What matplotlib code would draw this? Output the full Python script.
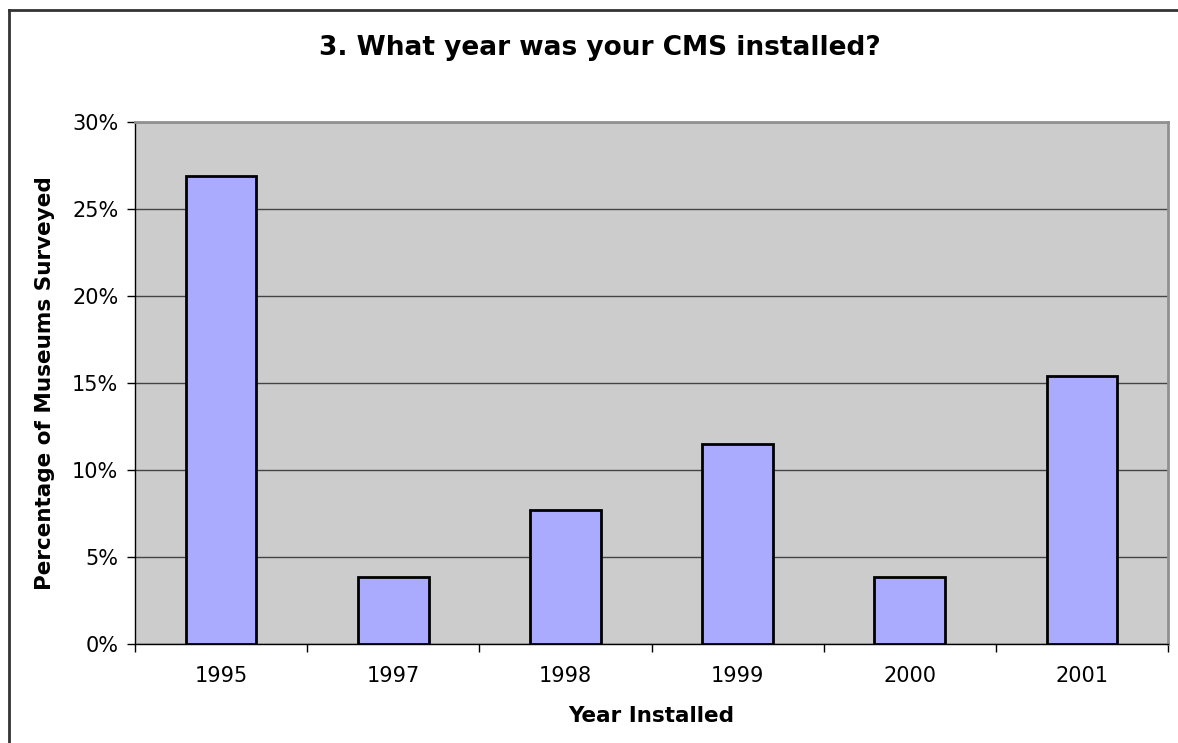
import matplotlib
matplotlib.use("Agg")
import matplotlib.pyplot as plt
import matplotlib.ticker as mticker
from matplotlib.lines import Line2D
import numpy as np

years = ["1995", "1997", "1998", "1999", "2000", "2001"]
percent = [26.9, 3.85, 7.7, 11.5, 3.85, 15.4]

plt.rcParams["font.family"] = "DejaVu Sans"

W, H = 1178, 743
fig = plt.figure(figsize=(W / 100, H / 100), dpi=100)
ax = fig.add_axes([135 / W, 1 - 644 / H, (1168 - 135) / W, (644 - 122) / H])

ax.set_facecolor("#cccccc")
xs = np.arange(len(years))
ax.bar(xs, percent, width=0.41, color="#aaaaff", edgecolor="black", linewidth=2, zorder=3)

ax.set_xlim(-0.5, len(years) - 0.5)
ax.set_ylim(0, 30)
ax.yaxis.set_major_locator(mticker.MultipleLocator(5))
ax.yaxis.set_major_formatter(mticker.FuncFormatter(lambda v, _: f"{v:.0f}%"))
ax.set_xticks(xs)
ax.set_xticklabels(years)
ax.set_xticks(np.arange(-0.5, len(years)), minor=True)
ax.tick_params(axis="x", which="major", length=0, labelsize=15, pad=16)
ax.tick_params(axis="x", which="minor", length=6, width=1, direction="out")
ax.tick_params(axis="y", length=6, width=1, direction="out", labelsize=15, pad=6)
ax.grid(axis="y", color="#444444", linewidth=1, zorder=1)
ax.set_axisbelow(True)

for s in ("top", "right"):
    ax.spines[s].set_color("#909090")
    ax.spines[s].set_linewidth(2)
for s in ("left", "bottom"):
    ax.spines[s].set_color("black")
    ax.spines[s].set_linewidth(1)

ax.set_xlabel("Year Installed", fontsize=15.5, fontweight="bold", labelpad=14)
ax.set_ylabel("Percentage of Museums Surveyed", fontsize=15.5, fontweight="bold", labelpad=12)
fig.text(600 / W, 1 - 48 / H, "3. What year was your CMS installed?", ha="center",
         va="center", fontsize=19, fontweight="bold")

# partial frame around the chart (top and left edges only)
fig.add_artist(Line2D([9 / W, 1], [1 - 10 / H, 1 - 10 / H], color="#333333", linewidth=2))
fig.add_artist(Line2D([9 / W, 9 / W], [0, 1 - 10 / H], color="#333333", linewidth=2))

fig.savefig("out.png", dpi=100)
